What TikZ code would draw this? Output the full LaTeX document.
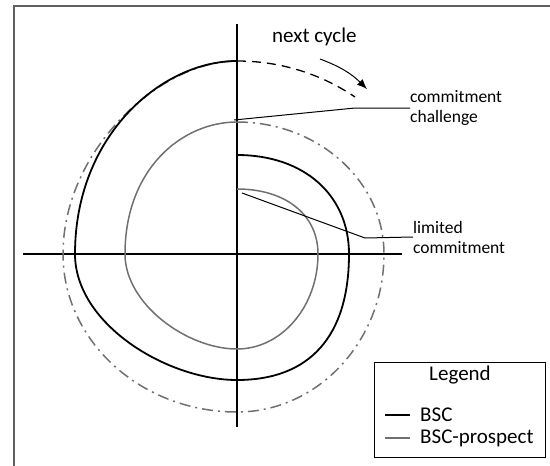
\documentclass[tikz,border=0pt]{standalone}
\usepackage{fontspec}
\setmainfont{Carlito}
\usetikzlibrary{arrows.meta}
\definecolor{frameg}{HTML}{606060}
\definecolor{prosg}{HTML}{707070}
\tikzset{
  axis/.style={line width=1.5pt, black},
  bsc/.style={line width=1.8pt, black},
  prospect/.style={line width=1.5pt, prosg},
  future/.style={line width=1.5pt, prosg, dash pattern=on 11pt off 5pt on 2pt off 5pt},
  nextbsc/.style={line width=1.3pt, black, dash pattern=on 9pt off 6pt},
  callout/.style={line width=1pt, black},
  smalltext/.style={font=\fontsize{17.5}{20}\selectfont, align=left, inner sep=0pt},
  bigtext/.style={font=\fontsize{21}{24}\selectfont, inner sep=0pt},
}
\begin{document}
\begin{tikzpicture}[x=1pt, y=-1pt]
\useasboundingbox (0,0) rectangle (550,466);
% open frame
\draw[frameg, line width=2pt] (14,466) -- (14,6) -- (550,6);

% axes
\coordinate (vtop) at (237,24);
\coordinate (vbot) at (237,427);
\coordinate (hleft) at (23,254);
\coordinate (hright) at (402,254);
\draw[axis] (vtop) -- (vbot);
\draw[axis] (hleft) -- (hright);

% projected continuation of the prospect spiral
\draw[future] (237,122) .. controls (318,122) and (384,181) .. (384,254)
  .. controls (384,341) and (318,412) .. (237,412)
  .. controls (141,412) and (63,341) .. (63,254)
  .. controls (63,150) and (160,61) .. (237,61);

% next cycle of the BSC
\draw[nextbsc] (237,61) .. controls (290,61) and (330,80) .. (355,97);

% BSC-prospect spiral
\draw[prospect] (237,189) .. controls (286,189) and (318,215) .. (318,254)
  .. controls (318,306) and (282,349) .. (237,349)
  .. controls (187,349) and (125,304) .. (125,254)
  .. controls (125,169) and (182,122) .. (237,122);

% BSC spiral
\draw[bsc] (237,155) .. controls (304,155) and (349,195) .. (349,254)
  .. controls (349,336) and (310,380) .. (237,380)
  .. controls (167,380) and (75,324) .. (75,254)
  .. controls (75,135) and (162,61) .. (237,61);

% next cycle label and arrow
\node[bigtext, anchor=west] (next) at (272,37) {next cycle};
\coordinate (arrS) at (320,59);
\coordinate (arrE) at (367,89);
\draw[line width=1pt, -{Latex[length=10pt,width=8pt]}] (arrS) to[bend left=12] (arrE);

% callouts
\node[smalltext, anchor=west] (chal) at (410,108) {commitment\\challenge};
\coordinate (chalP) at (234,120);
\coordinate (chalK) at (355,108);
\draw[callout] (chalP) -- (chalK) -- (chal.west);

\node[smalltext, anchor=west] (lim) at (413,237) {limited\\commitment};
\coordinate (limP) at (242,193);
\coordinate (limK) at (365,238);
\draw[callout] (limP) -- (limK) -- (lim.west);

% legend
\node[draw, line width=1.2pt, minimum width=171pt, minimum height=95pt, anchor=north west, inner sep=0pt] (legend) at (374,362) {};
\node[bigtext] (legt) at (460,375) {Legend};
\coordinate (l1a) at (385,415);
\coordinate (l1b) at (410,415);
\coordinate (l2a) at (385,438);
\coordinate (l2b) at (410,438);
\draw[line width=1.5pt, black] (l1a) -- (l1b);
\draw[line width=1.5pt, prosg] (l2a) -- (l2b);
\node[bigtext, anchor=west] (lbsc) at (420,415) {BSC};
\node[bigtext, anchor=west] (lpro) at (420,438) {BSC-prospect};
\end{tikzpicture}
\end{document}
